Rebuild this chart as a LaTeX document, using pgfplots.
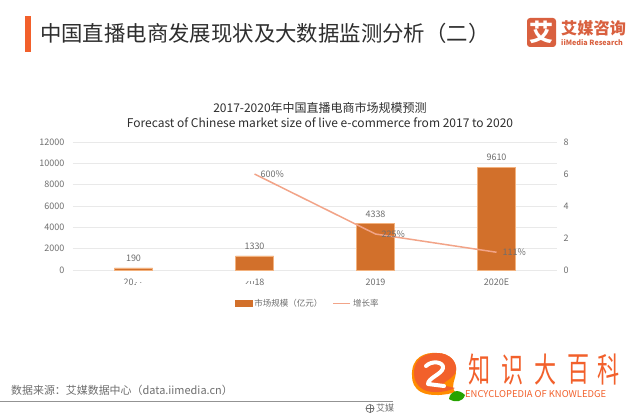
\documentclass[border=0pt]{standalone}
\usepackage{fontspec}
\usepackage{pgfplots}
\pgfplotsset{compat=1.18}
\setmainfont{Noto Sans CJK SC}
\definecolor{txt}{HTML}{6E6E6E}
\definecolor{dark}{HTML}{2E2E2E}
\definecolor{barc}{HTML}{D2702B}
\definecolor{barl}{HTML}{F3B27E}
\definecolor{linec}{HTML}{F2A488}
\definecolor{gridc}{HTML}{E9E9E9}
\definecolor{red1}{HTML}{F2602B}
\definecolor{logoc}{HTML}{D9603F}
\pgfplotsset{common/.style={
  scale only axis, width=484pt, height=128pt,
  at={(73pt,146pt)}, anchor=south west,
  xmin=-0.5, xmax=3.5,
  axis line style={draw=none},
  major tick length=0pt,
  scaled y ticks=false,
  tick label style={font=\fontsize{9}{11}\selectfont, text=txt},
  /pgf/number format/assume math mode=true,
  /pgf/number format/.cd, 1000 sep={}, /pgfplots/.cd,
}}
\begin{document}
\begin{tikzpicture}
\path[use as bounding box, fill=white] (0,0) rectangle (640pt,416pt);
\begin{axis}[common,
  ymin=0, ymax=12000, ytick={0,2000,...,12000},
  ymajorgrids, grid style={gridc, line width=0.9pt},
  xtick={0,1,2,3}, xticklabels={2017,2018,2019,2020E},
  yticklabel style={xshift=-5pt},
  xticklabel style={yshift=-5pt},
  nodes near coords, point meta=explicit symbolic,
  every node near coord/.append style={font=\fontsize{9}{11}\selectfont, text=txt, yshift=3pt},
]
\addplot[ybar, bar width=38pt, fill=barc, draw=barl, line width=0.5pt, bar shift=0pt]
  coordinates {(0,190)[190] (1,1330)[1330] (2,4338)[4338] (3,9610)[9610]};
\end{axis}
\begin{axis}[common,
  ymin=0, ymax=8, ytick={0,2,4,6,8},
  xtick=\empty, axis y line*=right,
  yticklabel style={xshift=3pt},
  legend style={draw=none, fill=none, anchor=center, at={(0.485,-0.26)},
    legend columns=2, font=\fontsize{8.5}{10}\selectfont, text=txt,
    /tikz/every even column/.style={column sep=8pt}},
  nodes near coords, point meta=explicit symbolic,
  every node near coord/.append style={font=\fontsize{9}{11}\selectfont, text=txt, anchor=west, xshift=2pt, yshift=0pt},
]
\addlegendimage{area legend, fill=barc, draw=barc}
\addlegendentry{市场规模（亿元）}
\addlegendimage{line legend, draw=linec, line width=1.5pt}
\addlegendentry{增长率}
\addplot[draw=linec, line width=1.5pt, mark=none]
  coordinates {(1,6.00)[600\%] (2,2.25)[225\%] (3,1.11)[111\%]};
\end{axis}
\begin{scope}[x=1pt,y=-1pt,shift={(0,416pt)}]
  % erased parts of the first two year labels
  \fill[white] (122,284) rectangle (128,291);
  \fill[white] (134,278) rectangle (146,282);
  \fill[white] (136,283) rectangle (147,289);
  \fill[white] (244,284) rectangle (255,291);
  \fill[white] (244,277) rectangle (254,281);
  % header
  \fill[red1] (25,16) rectangle (31,52);
  \node[anchor=west, inner sep=0, text=dark, font=\fontsize{21.4}{24}\selectfont] at (40,33) {中国直播电商发展现状及大数据监测分析（二）};
  \fill[logoc, rounded corners=3pt] (527,18) rectangle (556,47);
  \node[text=white, font=\fontsize{24}{26}\selectfont\bfseries, inner sep=0] at (541.5,32) {艾};
  \node[anchor=west, inner sep=0, text=logoc, font=\fontsize{16.2}{18}\selectfont\bfseries] at (561,28) {艾媒咨询};
  \node[anchor=west, inner sep=0, text=logoc, font=\fontsize{7.2}{8}\selectfont\bfseries] at (561,43) {iiMedia Research};
  % chart title
  \node[inner sep=0, text=dark, font=\fontsize{12}{13}\selectfont] at (320,108) {2017-2020年中国直播电商市场规模预测};
  \node[inner sep=0, text=dark, font=\fontsize{12}{13}\selectfont] at (320,123) {Forecast of Chinese market size of live e-commerce from 2017 to 2020};
  % footer
  \node[anchor=west, inner sep=0, text=txt, font=\fontsize{10.95}{12}\selectfont] at (11,390) {数据来源：艾媒数据中心（data.iimedia.cn）};
  \draw[color=gray!85, line width=1.3pt] (0,401.5) -- (393,401.5);
  \begin{scope}
    \clip (360,403) rectangle (393,416);
    \draw[txt, line width=0.7pt] (370,408.5) circle (4pt);
    \draw[txt, line width=0.5pt] (366,408.5) -- (374,408.5) (370,404.5) -- (370,412.5);
    \node[anchor=west, inner sep=0, text=txt, font=\fontsize{9}{10}\selectfont] at (376,408.5) {艾媒};
  \end{scope}
  % watermark
  \fill[orange!90!yellow] (412,376) .. controls (411,357) and (425,352) .. (437,353) .. controls (450,353) and (457,362) .. (456,371) .. controls (456,380) and (450,385) .. (455,392) .. controls (448,395) and (430,397) .. (421,392) .. controls (414,388) and (412,382) .. (412,376) -- cycle;
  \fill[red1] (414,373) .. controls (414,358) and (426,353) .. (437,353) .. controls (450,353) and (457,362) .. (456,370) .. controls (455,378) and (446,380) .. (442,385) -- (455,388) .. controls (445,393) and (428,394) .. (421,388) .. controls (416,384) and (414,379) .. (414,373) -- cycle;
  \draw[white, line width=4pt, line cap=round, line join=round] (426,366) .. controls (432,360) and (444,362) .. (443,368) .. controls (442,374) and (428,378) .. (428,384) -- (444,386);
  \fill[green!55!black!80!lime] (449,399) .. controls (450,391) and (458,388) .. (465,395) .. controls (463,402) and (455,403) .. (449,399) -- cycle;
  \foreach \c/\xx in {知/480,识/513,大/546,百/579,科/609}
    \node[inner sep=0, text=red1, xscale=0.65, font=\fontsize{34}{36}\selectfont] at (\xx,370) {\c};
  \node[inner sep=0, anchor=west, text=red1, font=\fontsize{9.4}{10}\selectfont] at (465,394) {ENCYCLOPEDIA OF KNOWLEDGE};
\end{scope}
\end{tikzpicture}
\end{document}
